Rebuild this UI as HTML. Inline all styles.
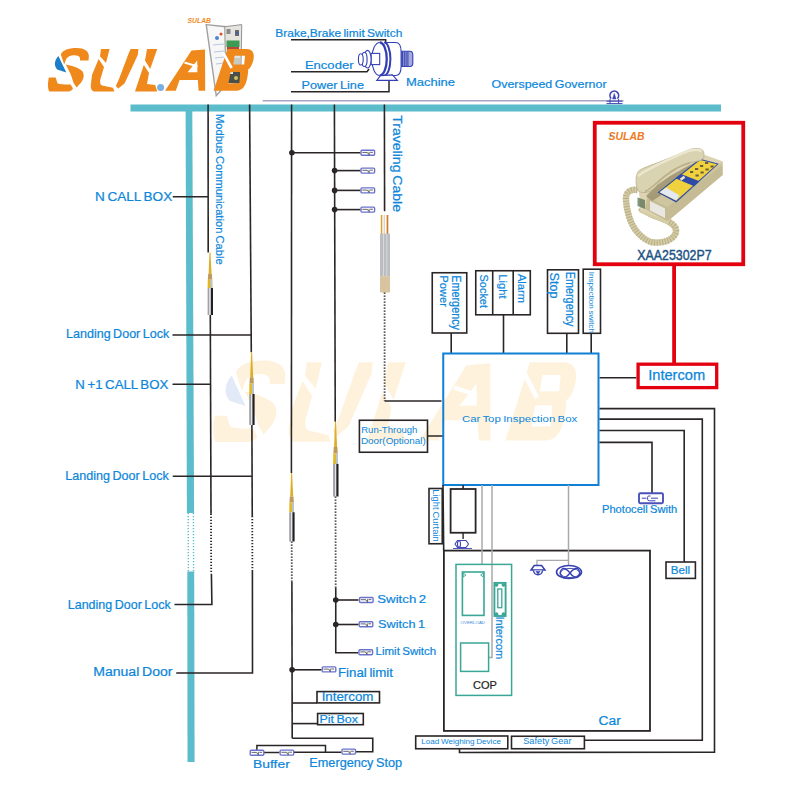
<!DOCTYPE html><html><head><meta charset="utf-8"><style>html,body{margin:0;padding:0;background:#fff;}svg{display:block;font-family:"Liberation Sans",sans-serif;}</style></head><body>
<svg width="800" height="800" viewBox="0 0 800 800">
<rect width="800" height="800" fill="#fff"/>
<g transform="translate(216 360) scale(1.763 1.87) translate(-49.5 -47.75)"><path d="M60.8 54.4 C 63 49.5, 70 48, 77 48 C 84 48, 88.9 51, 88.9 56 L 88.5 60.6 L 80 60.6 L 80 57.8 C 79 55.8, 76.5 55.2, 73.5 55.3 C 69 55.6, 66.5 57.8, 65.6 60.5 L 64.2 64.5 Z" fill="#fef2dc"/>
<path d="M58.4 56.1 C 54.2 60.5, 53.8 66, 57.2 69.6 L 66.3 72.4 Z" fill="#e1eaf6"/>
<path d="M65.8 64.6 C 71 65.5, 78 67.5, 82.2 71 C 84.5 74, 84.2 78, 81.5 82 L 76.6 87.6 L 73.6 83 C 72.5 80, 71.8 77, 70.8 74.5 Z" fill="#fef2dc"/>
<path d="M48.8 77.6 L 55.6 77.6 L 57.6 83.4 C 62 84.5, 67 84.6, 70.6 84.4 L 73 88.6 C 71.5 90.8, 70 91.6, 68.5 91.6 L 49.2 91.6 C 48 89, 47.8 86, 48 83 Z" fill="#fef2dc"/>
<path d="M101 49 L 109.6 49 L 106 63 L 100 56.2 Z" fill="#fef2dc"/>
<path d="M98.6 59 L 104 67 L 100.2 80 C 99.8 83, 100.5 85, 102 85.5 L 113 87.8 L 114.4 91.4 L 94 91.4 C 91.5 91, 90.5 88.5, 90.8 85 L 92 75 Z" fill="#fef2dc"/>
<path d="M130.6 49 L 138.4 49 L 137.8 55 L 124.5 83.5 L 118.2 88.4 L 115.8 86 L 119 79 L 128.8 53 Z" fill="#fef2dc"/>
<path d="M147 49 L 157.2 49 L 150.2 69 L 145 60.5 Z" fill="#fef2dc"/>
<path d="M143.8 65 L 149 73 L 147 84 L 155.2 85 L 157.2 91.4 L 135 91.4 Z" fill="#fef2dc"/>
<circle cx="160.6" cy="87.6" r="3.5" fill="#fff"/>
<path d="M165 90.8 L 191.5 50.5 L 205 49.5 L 205.2 90.8 L 198.6 90.8 L 197.8 80 L 179.6 80 L 175.8 90.8 Z M 187.6 72.2 L 197.4 72.2 L 197.2 60.5 Z" fill="#fef2dc" fill-rule="evenodd"/>
<path d="M184.5 62.5 L 197.5 66.5" stroke="#fff" stroke-width="2.2"/>
<path d="M227.5 48.9 L 246.5 48.9 C 251.5 48.9, 254 52, 253.8 56.5 C 253.5 61.5, 252 65.5, 249.5 68.5 C 248 69, 248 70, 248.2 71 C 247.8 76, 247 80, 245.5 84 C 243.5 88.5, 240.5 90.8, 236 90.8 L 213.6 90.8 Z M 234.6 55.8 L 245 55.8 L 244.2 64.4 L 233.2 64.6 Z M 230.6 72 L 240.2 72 L 239.4 83.2 L 228.4 83.4 Z" fill="#fef2dc" fill-rule="evenodd"/>
<path d="M223.6 53.5 L 231.6 68" stroke="#fff" stroke-width="2.6"/></g>
<path d="M60.8 54.4 C 63 49.5, 70 48, 77 48 C 84 48, 88.9 51, 88.9 56 L 88.5 60.6 L 80 60.6 L 80 57.8 C 79 55.8, 76.5 55.2, 73.5 55.3 C 69 55.6, 66.5 57.8, 65.6 60.5 L 64.2 64.5 Z" fill="#ef891c"/>
<path d="M58.4 56.1 C 54.2 60.5, 53.8 66, 57.2 69.6 L 66.3 72.4 Z" fill="#1c7dc9"/>
<path d="M65.8 64.6 C 71 65.5, 78 67.5, 82.2 71 C 84.5 74, 84.2 78, 81.5 82 L 76.6 87.6 L 73.6 83 C 72.5 80, 71.8 77, 70.8 74.5 Z" fill="#ef891c"/>
<path d="M48.8 77.6 L 55.6 77.6 L 57.6 83.4 C 62 84.5, 67 84.6, 70.6 84.4 L 73 88.6 C 71.5 90.8, 70 91.6, 68.5 91.6 L 49.2 91.6 C 48 89, 47.8 86, 48 83 Z" fill="#ef891c"/>
<path d="M101 49 L 109.6 49 L 106 63 L 100 56.2 Z" fill="#ef891c"/>
<path d="M98.6 59 L 104 67 L 100.2 80 C 99.8 83, 100.5 85, 102 85.5 L 113 87.8 L 114.4 91.4 L 94 91.4 C 91.5 91, 90.5 88.5, 90.8 85 L 92 75 Z" fill="#ef891c"/>
<path d="M130.6 49 L 138.4 49 L 137.8 55 L 124.5 83.5 L 118.2 88.4 L 115.8 86 L 119 79 L 128.8 53 Z" fill="#ef891c"/>
<path d="M147 49 L 157.2 49 L 150.2 69 L 145 60.5 Z" fill="#ef891c"/>
<path d="M143.8 65 L 149 73 L 147 84 L 155.2 85 L 157.2 91.4 L 135 91.4 Z" fill="#ef891c"/>
<circle cx="160.6" cy="87.6" r="3.5" fill="#7ab0e0"/>
<path d="M165 90.8 L 191.5 50.5 L 205 49.5 L 205.2 90.8 L 198.6 90.8 L 197.8 80 L 179.6 80 L 175.8 90.8 Z M 187.6 72.2 L 197.4 72.2 L 197.2 60.5 Z" fill="#ef891c" fill-rule="evenodd"/>
<path d="M184.5 62.5 L 197.5 66.5" stroke="#fff" stroke-width="2.2"/>
<g>
<polygon points="206.2,24.6 225.8,26.7 226.9,84 216.25,95.75" fill="#f7f7f7" stroke="#a0a0a0" stroke-width="1.4"/>
<polygon points="224.75,26.7 241.75,24.6 240.7,83 225.8,85.1" fill="#e6e4df" stroke="#8a8a8a" stroke-width="0.9"/>
<rect x="226.5" y="29" width="4" height="5" fill="#8a8a88"/>
<rect x="235" y="30" width="4" height="6" fill="#6a6a6a"/>
<circle cx="237" cy="33" r="1.3" fill="#3a60b0"/>
<rect x="226.5" y="40.5" width="13" height="6.5" fill="#3e9a54"/>
<rect x="227" y="47" width="12" height="3" fill="#b54a3a"/>
<rect x="226" y="58" width="14" height="8" fill="#c8cac0"/><rect x="226" y="66" width="14" height="17" fill="#4a5048"/><rect x="228" y="70" width="5" height="4" fill="#e8e8e0"/>
<circle cx="231" cy="70" r="2.2" fill="#4f9a50"/>
<circle cx="236" cy="78" r="2" fill="#d0c060"/>
<circle cx="217" cy="38" r="2" fill="#4c86d0"/>
<circle cx="221" cy="34" r="1.5" fill="#e04a30"/>
<path d="M213 45 L224 44 M214 52 L224 51 M215 58 L224 57 M216 64 L224 63" stroke="#b8c8e8" stroke-width="1"/>
</g>
<path d="M227.5 48.9 L 246.5 48.9 C 251.5 48.9, 254 52, 253.8 56.5 C 253.5 61.5, 252 65.5, 249.5 68.5 C 248 69, 248 70, 248.2 71 C 247.8 76, 247 80, 245.5 84 C 243.5 88.5, 240.5 90.8, 236 90.8 L 213.6 90.8 Z M 234.6 55.8 L 245 55.8 L 244.2 64.4 L 233.2 64.6 Z M 230.6 72 L 240.2 72 L 239.4 83.2 L 228.4 83.4 Z" fill="#ef891c" fill-rule="evenodd"/>
<path d="M223.6 53.5 L 231.6 68" stroke="#fff" stroke-width="2.6"/>
<text x="187.5" y="23" font-size="7" font-style="italic" font-weight="bold" fill="#ef891c" textLength="23.5" lengthAdjust="spacingAndGlyphs">SULAB</text>
<polygon points="130.5,104.5 721,104.5 721,111.4 130.5,111.4" fill="#5bbccb"/>
<polygon points="185.6,111 192.3,111 194.1,513 186.9,513" fill="#5bbccb"/>
<polygon points="187.3,571.5 194.2,571.5 194.6,762 187.5,762" fill="#5bbccb"/>
<line x1="188.2" y1="513" x2="188.4" y2="571.5" stroke="#5bbccb" stroke-width="1.4" stroke-dasharray="1.3 1.7"/>
<line x1="193.4" y1="513" x2="193.6" y2="571.5" stroke="#5bbccb" stroke-width="1.4" stroke-dasharray="1.3 1.7"/>
<line x1="262.6" y1="100.8" x2="623.5" y2="100.8" stroke="#aaa3c6" stroke-width="1.5" />
<polyline points="291,39.8 385.7,39.8 385.7,43" stroke="#2a2526" stroke-width="1.5" fill="none" />
<polyline points="291,71.8 367,71.8 369,69" stroke="#2a2526" stroke-width="1.5" fill="none" />
<polyline points="291,91.8 389,91.8 389,80.5" stroke="#2a2526" stroke-width="1.5" fill="none" />
<g stroke="#3340b5" fill="none" stroke-width="1.1">
<path d="M401.1 51.3 H410 Q412.8 51.3 412.8 55 V63 Q412.8 66.5 410 66.5 H401.1 Z" fill="#a4aade"/>
<path d="M402.5 51.6 V66.2 M404.3 51.6 V66.2 M406.1 51.6 V66.2 M407.9 51.6 V66.2" stroke="#3d48b3" stroke-width="1.1"/>
<path d="M384.2 42.5 H395.5 Q401.1 42.5 401.1 51.5 V66.5 Q401.1 75.5 395.5 75.5 H384.2" fill="#fff"/>
<path d="M379.75 42.5 A 8 16.5 0 0 0 379.75 75.5" fill="#fff"/>
<path d="M379.75 42.5 A 7 16.5 0 0 1 379.75 75.5" stroke-width="2.3"/>
<path d="M384.2 42.5 A 6.2 16.5 0 0 1 384.2 75.5" stroke-width="2"/>
<polygon points="376.75,80.4 397.4,80.4 392.5,74.9 380.5,75.6" fill="#fff"/>
<rect x="371.1" y="53.4" width="8.6" height="11.2" fill="#fff"/>
<ellipse cx="367.5" cy="59.2" rx="3.6" ry="8.8" fill="#fff"/>
<ellipse cx="364.4" cy="59.4" rx="2.7" ry="7.1" fill="#fff"/>
<ellipse cx="360.8" cy="59.4" rx="2.4" ry="5.6" fill="#fff"/>
</g>
<text x="275.30" y="36.60" font-size="11.58" fill="#0c86da" stroke="#0c86da" stroke-width="0.208" font-weight="normal" word-spacing="-0.93" textLength="127.00" lengthAdjust="spacingAndGlyphs" >Brake,Brake limit Switch</text>
<text x="304.90" y="69.00" font-size="11.67" fill="#0c86da" stroke="#0c86da" stroke-width="0.210" font-weight="normal" word-spacing="-0.93" textLength="48.60" lengthAdjust="spacingAndGlyphs" >Encoder</text>
<text x="301.50" y="89.00" font-size="11.67" fill="#0c86da" stroke="#0c86da" stroke-width="0.210" font-weight="normal" word-spacing="-0.93" textLength="62.50" lengthAdjust="spacingAndGlyphs" >Power Line</text>
<text x="405.95" y="85.75" font-size="11.77" fill="#0c86da" stroke="#0c86da" stroke-width="0.212" font-weight="normal" word-spacing="-0.94" textLength="49.10" lengthAdjust="spacingAndGlyphs" >Machine</text>
<text x="491.50" y="88.00" font-size="11.27" fill="#0c86da" stroke="#0c86da" stroke-width="0.203" font-weight="normal" word-spacing="-0.90" textLength="115.05" lengthAdjust="spacingAndGlyphs" >Overspeed Governor</text>
<g stroke="#3d45b5" fill="none" stroke-width="1.2">
<path d="M611.2 98.6 A 4.4 4.4 0 1 1 617.4 98.6" stroke-width="1.5"/>
<path d="M612.6 99 L614.3 93.4 L616 99 Z" fill="#3d45b5" stroke-width="0.5"/>
<path d="M606.5 101.2 H622.5 M606.5 103.6 H622.5" stroke-width="1"/>
<path d="M610 99 V103.6 M618.6 99 V103.6" stroke-width="1"/>
</g>
<line x1="208.1" y1="104.5" x2="208.2" y2="252.5" stroke="#2a2526" stroke-width="1.6" />
<g><path d="M209.5 252.5 L210.5 252.5 L211.6 273.80 L208.6 273.80 Z" fill="#dcae2a"/><path d="M208.2 273.80 L211.9 273.80 L212.2 279.12 L207.9 279.12 Z" fill="#bf9a5c"/><path d="M207.8 279.12 L212.2 279.12 L212.4 288 L207.6 288 Z" fill="#e2b827"/><path d="M210.2 279.12 L212.2 279.12 L212.4 288 L210.6 288 Z" fill="#b9c4d6"/><rect x="207.6" y="288" width="1.9" height="27.00" fill="#9ea2a8"/><rect x="209.5" y="288" width="1.2" height="27.00" fill="#e4e6ea"/><rect x="210.8" y="288" width="2.2" height="27.00" fill="#231f20"/></g>
<line x1="210.3" y1="315" x2="211" y2="513.75" stroke="#2a2526" stroke-width="1.6" />
<line x1="211" y1="513.75" x2="211.2" y2="573.75" stroke="#2a2526" stroke-width="1.8" stroke-dasharray="1.3 1.7"/>
<polyline points="211.4,573.75 211.9,604.5 174.5,604.5" stroke="#2a2526" stroke-width="1.6" fill="none" />
<line x1="172.75" y1="196.7" x2="208.2" y2="196.7" stroke="#2a2526" stroke-width="1.6" />
<line x1="172.5" y1="384.25" x2="210.6" y2="384.25" stroke="#2a2526" stroke-width="1.6" />
<line x1="172.5" y1="335" x2="251.3" y2="335" stroke="#2a2526" stroke-width="1.6" />
<line x1="172.75" y1="476.25" x2="252.3" y2="476.25" stroke="#2a2526" stroke-width="1.6" />
<line x1="249.6" y1="104.5" x2="251.3" y2="352.3" stroke="#2a2526" stroke-width="1.6" />
<g><path d="M251.1 352.3 L252.1 352.3 L253.2 377.32 L250.2 377.32 Z" fill="#dcae2a"/><path d="M249.79999999999998 377.32 L253.5 377.32 L253.79999999999998 383.57 L249.5 383.57 Z" fill="#bf9a5c"/><path d="M249.4 383.57 L253.79999999999998 383.57 L254.0 394 L249.2 394 Z" fill="#e2b827"/><path d="M251.79999999999998 383.57 L253.79999999999998 383.57 L254.0 394 L252.2 394 Z" fill="#b9c4d6"/><rect x="249.2" y="394" width="1.9" height="31.00" fill="#9ea2a8"/><rect x="251.1" y="394" width="1.2" height="31.00" fill="#e4e6ea"/><rect x="252.4" y="394" width="2.2" height="31.00" fill="#231f20"/></g>
<line x1="251.9" y1="425" x2="252.25" y2="516" stroke="#2a2526" stroke-width="1.6" />
<line x1="252.25" y1="516" x2="252.4" y2="570" stroke="#2a2526" stroke-width="1.8" stroke-dasharray="1.3 1.7"/>
<polyline points="252.4,570 252.5,673 176.25,673" stroke="#2a2526" stroke-width="1.6" fill="none" />
<line x1="291.6" y1="104.5" x2="291.4" y2="472.9" stroke="#2a2526" stroke-width="1.6" />
<g><path d="M291.1 472.9 L292.1 472.9 L293.20000000000005 496.51 L290.20000000000005 496.51 Z" fill="#dcae2a"/><path d="M289.8 496.51 L293.5 496.51 L293.8 502.41 L289.5 502.41 Z" fill="#bf9a5c"/><path d="M289.40000000000003 502.41 L293.8 502.41 L294.0 512.25 L289.20000000000005 512.25 Z" fill="#e2b827"/><path d="M291.8 502.41 L293.8 502.41 L294.0 512.25 L292.20000000000005 512.25 Z" fill="#b9c4d6"/><rect x="289.20000000000005" y="512.25" width="1.9" height="29.25" fill="#9ea2a8"/><rect x="291.1" y="512.25" width="1.2" height="29.25" fill="#e4e6ea"/><rect x="292.40000000000003" y="512.25" width="2.2" height="29.25" fill="#231f20"/></g>
<line x1="291.7" y1="541.5" x2="291.8" y2="582" stroke="#2a2526" stroke-width="1.8" stroke-dasharray="1.3 1.7"/>
<line x1="291.9" y1="582" x2="292.2" y2="738.2" stroke="#2a2526" stroke-width="1.6" />
<circle cx="291.9" cy="152.75" r="2.8" fill="#2a2526"/>
<line x1="291.9" y1="152.75" x2="360.5" y2="152.75" stroke="#2a2526" stroke-width="1.6" />
<circle cx="292.1" cy="669.8" r="2.8" fill="#2a2526"/>
<line x1="292.1" y1="669.8" x2="321.5" y2="669.8" stroke="#2a2526" stroke-width="1.6" />
<line x1="292.1" y1="703" x2="317" y2="703" stroke="#2a2526" stroke-width="1.6" />
<line x1="292.1" y1="723.6" x2="317.6" y2="723.6" stroke="#2a2526" stroke-width="1.6" />
<polyline points="292.2,738.2 372.75,738.2 372.75,751.7 355.9,751.7" stroke="#2a2526" stroke-width="1.6" fill="none" />
<line x1="334.4" y1="104.5" x2="335.25" y2="421.8" stroke="#2a2526" stroke-width="1.6" />
<g><path d="M335.0 421.8 L336.0 421.8 L337.1 447.06 L334.1 447.06 Z" fill="#dcae2a"/><path d="M333.7 447.06 L337.4 447.06 L337.7 453.38 L333.4 453.38 Z" fill="#bf9a5c"/><path d="M333.3 453.38 L337.7 453.38 L337.9 463.9 L333.1 463.9 Z" fill="#e2b827"/><path d="M335.7 453.38 L337.7 453.38 L337.9 463.9 L336.1 463.9 Z" fill="#b9c4d6"/><rect x="333.1" y="463.9" width="1.9" height="32.60" fill="#9ea2a8"/><rect x="335.0" y="463.9" width="1.2" height="32.60" fill="#e4e6ea"/><rect x="336.3" y="463.9" width="2.2" height="32.60" fill="#231f20"/></g>
<line x1="335.5" y1="496.5" x2="335.7" y2="588" stroke="#2a2526" stroke-width="1.8" stroke-dasharray="1.3 1.7"/>
<polyline points="335.75,588 335.75,652.75 358.25,652.75" stroke="#2a2526" stroke-width="1.6" fill="none" />
<circle cx="334.6" cy="170.6" r="2.8" fill="#2a2526"/>
<line x1="334.6" y1="170.6" x2="360.5" y2="170.6" stroke="#2a2526" stroke-width="1.6" />
<circle cx="334.6" cy="190.4" r="2.8" fill="#2a2526"/>
<line x1="334.6" y1="190.4" x2="360.5" y2="190.4" stroke="#2a2526" stroke-width="1.6" />
<circle cx="334.6" cy="209.6" r="2.8" fill="#2a2526"/>
<line x1="334.6" y1="209.6" x2="360.5" y2="209.6" stroke="#2a2526" stroke-width="1.6" />
<circle cx="335.75" cy="600" r="2.8" fill="#2a2526"/>
<line x1="335.75" y1="600" x2="358.5" y2="600" stroke="#2a2526" stroke-width="1.6" />
<circle cx="335.75" cy="624.5" r="2.8" fill="#2a2526"/>
<line x1="335.75" y1="624.5" x2="358.5" y2="624.5" stroke="#2a2526" stroke-width="1.6" />
<g><rect x="361.00" y="150.25" width="13.60" height="5.00" rx="1" stroke="#6a72cc" stroke-width="1.4" fill="#fff"/><path d="M362.30 152.45 H367.30 L368.90 154.55 M369.10 151.95 V155.35 M370.10 152.35 H372.90" stroke="#555" stroke-width="0.9" fill="none"/></g>
<g><rect x="361.00" y="168.10" width="13.60" height="5.00" rx="1" stroke="#6a72cc" stroke-width="1.4" fill="#fff"/><path d="M362.30 170.30 H367.30 L368.90 172.40 M369.10 169.80 V173.20 M370.10 170.20 H372.90" stroke="#555" stroke-width="0.9" fill="none"/></g>
<g><rect x="361.00" y="187.90" width="13.60" height="5.00" rx="1" stroke="#6a72cc" stroke-width="1.4" fill="#fff"/><path d="M362.30 190.10 H367.30 L368.90 192.20 M369.10 189.60 V193.00 M370.10 190.00 H372.90" stroke="#555" stroke-width="0.9" fill="none"/></g>
<g><rect x="361.00" y="207.10" width="13.60" height="5.00" rx="1" stroke="#6a72cc" stroke-width="1.4" fill="#fff"/><path d="M362.30 209.30 H367.30 L368.90 211.40 M369.10 208.80 V212.20 M370.10 209.20 H372.90" stroke="#555" stroke-width="0.9" fill="none"/></g>
<g><rect x="359.50" y="597.50" width="13.60" height="5.00" rx="1" stroke="#6a72cc" stroke-width="1.4" fill="#fff"/><path d="M360.80 599.70 H365.80 L367.40 601.80 M367.60 599.20 V602.60 M368.60 599.60 H371.40" stroke="#555" stroke-width="0.9" fill="none"/></g>
<g><rect x="359.20" y="621.70" width="13.60" height="5.00" rx="1" stroke="#6a72cc" stroke-width="1.4" fill="#fff"/><path d="M360.50 623.90 H365.50 L367.10 626.00 M367.30 623.40 V626.80 M368.30 623.80 H371.10" stroke="#555" stroke-width="0.9" fill="none"/></g>
<g><rect x="358.95" y="649.70" width="13.60" height="5.00" rx="1" stroke="#6a72cc" stroke-width="1.4" fill="#fff"/><path d="M360.25 651.90 H365.25 L366.85 654.00 M367.05 651.40 V654.80 M368.05 651.80 H370.85" stroke="#555" stroke-width="0.9" fill="none"/></g>
<g><rect x="322.20" y="666.90" width="13.60" height="5.00" rx="1" stroke="#6a72cc" stroke-width="1.4" fill="#fff"/><path d="M323.50 669.10 H328.50 L330.10 671.20 M330.30 668.60 V672.00 M331.30 669.00 H334.10" stroke="#555" stroke-width="0.9" fill="none"/></g>
<text x="377.25" y="602.80" font-size="11.54" fill="#0c86da" stroke="#0c86da" stroke-width="0.208" font-weight="normal" word-spacing="-0.92" textLength="49.00" lengthAdjust="spacingAndGlyphs" >Switch 2</text>
<text x="378.00" y="627.70" font-size="11.40" fill="#0c86da" stroke="#0c86da" stroke-width="0.205" font-weight="normal" word-spacing="-0.91" textLength="47.10" lengthAdjust="spacingAndGlyphs" >Switch 1</text>
<text x="375.50" y="654.70" font-size="10.68" fill="#0c86da" stroke="#0c86da" stroke-width="0.192" font-weight="normal" word-spacing="-0.85" textLength="60.75" lengthAdjust="spacingAndGlyphs" >Limit Switch</text>
<text x="338.00" y="676.50" font-size="12.39" fill="#0c86da" stroke="#0c86da" stroke-width="0.223" font-weight="normal" word-spacing="-0.99" textLength="55.00" lengthAdjust="spacingAndGlyphs" >Final limit</text>
<rect x="317" y="691.6" width="62.50" height="11.30" stroke="#2a2526" stroke-width="1.6" fill="none" />
<text x="321.65" y="701.30" font-size="12.22" fill="#0c86da" stroke="#0c86da" stroke-width="0.220" font-weight="normal" word-spacing="-0.98" textLength="51.85" lengthAdjust="spacingAndGlyphs" >Intercom</text>
<rect x="317.6" y="713.5" width="45.70" height="11.20" stroke="#2a2526" stroke-width="1.6" fill="none" />
<text x="319.50" y="723.10" font-size="11.25" fill="#0c86da" stroke="#0c86da" stroke-width="0.203" font-weight="normal" word-spacing="-0.90" textLength="38.55" lengthAdjust="spacingAndGlyphs" >Pit Box</text>
<polyline points="256.9,752 256.9,745.6 325.5,745.6 325.5,752" stroke="#2a2526" stroke-width="1.5" fill="none" />
<line x1="263.6" y1="752.5" x2="279.4" y2="752.5" stroke="#2a2526" stroke-width="1.5" />
<line x1="293.5" y1="752.2" x2="341.25" y2="752.2" stroke="#2a2526" stroke-width="1.5" />
<g><rect x="250.20" y="750.20" width="13.60" height="5.00" rx="1" stroke="#6a72cc" stroke-width="1.4" fill="#fff"/><path d="M251.50 752.40 H256.50 L258.10 754.50 M258.30 751.90 V755.30 M259.30 752.30 H262.10" stroke="#555" stroke-width="0.9" fill="none"/></g>
<g><rect x="280.10" y="750.10" width="13.60" height="5.00" rx="1" stroke="#6a72cc" stroke-width="1.4" fill="#fff"/><path d="M281.40 752.30 H286.40 L288.00 754.40 M288.20 751.80 V755.20 M289.20 752.20 H292.00" stroke="#555" stroke-width="0.9" fill="none"/></g>
<g><rect x="341.95" y="749.10" width="13.60" height="5.00" rx="1" stroke="#6a72cc" stroke-width="1.4" fill="#fff"/><path d="M343.25 751.30 H348.25 L349.85 753.40 M350.05 750.80 V754.20 M351.05 751.20 H353.85" stroke="#555" stroke-width="0.9" fill="none"/></g>
<text x="253.00" y="767.50" font-size="11.61" fill="#0c86da" stroke="#0c86da" stroke-width="0.209" font-weight="normal" word-spacing="-0.93" textLength="36.75" lengthAdjust="spacingAndGlyphs" >Buffer</text>
<text x="309.35" y="766.60" font-size="12.15" fill="#0c86da" stroke="#0c86da" stroke-width="0.219" font-weight="normal" word-spacing="-0.97" textLength="92.70" lengthAdjust="spacingAndGlyphs" >Emergency Stop</text>
<line x1="384.4" y1="104.5" x2="384.6" y2="211.3" stroke="#2a2526" stroke-width="1.6" />
<g>
<rect x="380.8" y="215" width="1.5" height="19" fill="#dfa22a"/>
<rect x="383.6" y="215" width="1.4" height="19" fill="#d8d4cc"/>
<rect x="386.6" y="215" width="1.7" height="19" fill="#d9781c"/>
<rect x="380" y="233.7" width="10" height="42.6" fill="#bbbdc0"/>
<rect x="383" y="233.7" width="1" height="42.6" fill="#d8d9db"/>
<rect x="386.3" y="233.7" width="1" height="42.6" fill="#d8d9db"/>
<rect x="380" y="276.2" width="10" height="16.3" fill="#d8c49e"/>
</g>
<line x1="384.6" y1="292.5" x2="384.6" y2="401" stroke="#2a2526" stroke-width="1.8" stroke-dasharray="1.3 1.7"/>
<line x1="384.6" y1="401" x2="441.5" y2="401" stroke="#2a2526" stroke-width="1.6" />
<text x="95.00" y="200.80" font-size="12.30" fill="#0c86da" stroke="#0c86da" stroke-width="0.221" font-weight="normal" word-spacing="-0.98" textLength="77.20" lengthAdjust="spacingAndGlyphs" >N CALL BOX</text>
<text x="66.00" y="338.25" font-size="12.39" fill="#0c86da" stroke="#0c86da" stroke-width="0.223" font-weight="normal" word-spacing="-0.99" textLength="103.25" lengthAdjust="spacingAndGlyphs" >Landing Door Lock</text>
<text x="75.25" y="388.75" font-size="13.09" fill="#0c86da" stroke="#0c86da" stroke-width="0.236" font-weight="normal" word-spacing="-1.05" textLength="93.00" lengthAdjust="spacingAndGlyphs" >N +1 CALL BOX</text>
<text x="65.25" y="479.50" font-size="12.39" fill="#0c86da" stroke="#0c86da" stroke-width="0.223" font-weight="normal" word-spacing="-0.99" textLength="103.50" lengthAdjust="spacingAndGlyphs" >Landing Door Lock</text>
<text x="67.75" y="609.25" font-size="12.03" fill="#0c86da" stroke="#0c86da" stroke-width="0.217" font-weight="normal" word-spacing="-0.96" textLength="103.00" lengthAdjust="spacingAndGlyphs" >Landing Door Lock</text>
<text x="93.25" y="676.25" font-size="13.12" fill="#0c86da" stroke="#0c86da" stroke-width="0.236" font-weight="normal" word-spacing="-1.05" textLength="79.25" lengthAdjust="spacingAndGlyphs" >Manual Door</text>
<text transform="translate(216.00 114.00) rotate(90)" x="0" y="0" font-size="10.94" fill="#0c86da" stroke="#0c86da" stroke-width="0.197" font-weight="normal" word-spacing="-0.88" textLength="150.70" lengthAdjust="spacingAndGlyphs">Modbus Communication Cable</text>
<text transform="translate(393.00 115.25) rotate(90)" x="0" y="0" font-size="12.80" fill="#0c86da" stroke="#0c86da" stroke-width="0.230" font-weight="normal" word-spacing="-1.02" textLength="96.70" lengthAdjust="spacingAndGlyphs">Traveling Cable</text>
<rect x="432.25" y="272.75" width="34.50" height="60.25" stroke="#2a2526" stroke-width="1.6" fill="none" />
<line x1="451.2" y1="333" x2="451.2" y2="353.5" stroke="#2a2526" stroke-width="1.6" />
<text transform="translate(451.50 275.25) rotate(90)" x="0" y="0" font-size="12.00" fill="#0c86da" stroke="#0c86da" stroke-width="0.216" font-weight="normal" word-spacing="-0.96" textLength="54.75" lengthAdjust="spacingAndGlyphs">Emergency</text>
<text transform="translate(440.00 275.25) rotate(90)" x="0" y="0" font-size="10.90" fill="#0c86da" stroke="#0c86da" stroke-width="0.196" font-weight="normal" word-spacing="-0.87" textLength="31.75" lengthAdjust="spacingAndGlyphs">Power</text>
<rect x="475.75" y="270.75" width="54.55" height="44.05" stroke="#2a2526" stroke-width="1.6" fill="none" />
<line x1="492.7" y1="270.75" x2="492.7" y2="314.8" stroke="#2a2526" stroke-width="1.6" />
<line x1="513.2" y1="270.75" x2="513.2" y2="314.8" stroke="#2a2526" stroke-width="1.6" />
<line x1="503.5" y1="314.8" x2="503.5" y2="353.5" stroke="#2a2526" stroke-width="1.6" />
<text transform="translate(480.00 274.50) rotate(90)" x="0" y="0" font-size="11.11" fill="#0c86da" stroke="#0c86da" stroke-width="0.200" font-weight="normal" word-spacing="-0.89" textLength="33.50" lengthAdjust="spacingAndGlyphs">Socket</text>
<text transform="translate(499.00 274.25) rotate(90)" x="0" y="0" font-size="10.22" fill="#0c86da" stroke="#0c86da" stroke-width="0.184" font-weight="normal" word-spacing="-0.82" textLength="24.25" lengthAdjust="spacingAndGlyphs">Light</text>
<text transform="translate(518.00 273.90) rotate(90)" x="0" y="0" font-size="10.22" fill="#0c86da" stroke="#0c86da" stroke-width="0.184" font-weight="normal" word-spacing="-0.82" textLength="29.10" lengthAdjust="spacingAndGlyphs">Alarm</text>
<rect x="547.5" y="269.8" width="31.00" height="63.50" stroke="#2a2526" stroke-width="1.6" fill="none" />
<line x1="566.8" y1="333.3" x2="566.8" y2="353.5" stroke="#2a2526" stroke-width="1.6" />
<text transform="translate(565.50 271.75) rotate(90)" x="0" y="0" font-size="12.00" fill="#0c86da" stroke="#0c86da" stroke-width="0.216" font-weight="normal" word-spacing="-0.96" textLength="54.75" lengthAdjust="spacingAndGlyphs">Emergency</text>
<text transform="translate(550.00 272.50) rotate(90)" x="0" y="0" font-size="12.73" fill="#0c86da" stroke="#0c86da" stroke-width="0.229" font-weight="normal" word-spacing="-1.02" textLength="26.00" lengthAdjust="spacingAndGlyphs">Stop</text>
<rect x="583.2" y="269.2" width="17.30" height="64.10" stroke="#2a2526" stroke-width="1.6" fill="none" />
<line x1="591.2" y1="333.3" x2="591.2" y2="353.5" stroke="#2a2526" stroke-width="1.6" />
<text transform="translate(589.00 271.75) rotate(90)" x="0" y="0" font-size="7.65" fill="#0c86da" stroke="#0c86da" stroke-width="0.000" font-weight="normal" word-spacing="-0.61" textLength="61.25" lengthAdjust="spacingAndGlyphs">Inspection switch</text>
<g>
<path d="M637.5 190 C 630 189, 625.5 192, 626 200 C 626.5 210, 630 224, 637.5 232.5 C 643 238.5, 648 242, 654 242.5 C 662 243, 670 241, 674 236 C 678 231, 676 226, 670 222.5 C 664 219, 657 217, 652.5 215 C 647 212.5, 643 210, 640 207.5" fill="none" stroke="#d5cda6" stroke-width="6.4"/>
<path d="M637.5 190 C 630 189, 625.5 192, 626 200 C 626.5 210, 630 224, 637.5 232.5 C 643 238.5, 648 242, 654 242.5 C 662 243, 670 241, 674 236 C 678 231, 676 226, 670 222.5 C 664 219, 657 217, 652.5 215 C 647 212.5, 643 210, 640 207.5" fill="none" stroke="#9f9570" stroke-width="6.4" stroke-dasharray="1.1 1.6" opacity="0.5"/>
<path d="M640 210 C 650 214, 660 218, 668 222" fill="none" stroke="#d5cda6" stroke-width="5"/>
<polygon points="638.75,185 705,155 722.5,161.25 722.5,175 667.5,221.25 640,210" fill="#dcd4b2"/>
<polygon points="647.5,197 720,163.75 722.5,161.25 722.5,175 667.5,221.25 645,209" fill="#cfc6a0"/>
<polygon points="647.5,197 667.5,207 722.5,165 722.5,175 667.5,221.25 645,209" fill="#c5bb94"/>
<polygon points="650,201 665,208.5 665,218 650,210.5" fill="#e9e8e0"/>
<polygon points="637.5,197.5 645,200 645,209 637.5,206" fill="#4f6a4a" opacity="0.7"/>
<polygon points="646,196 656,186 670,176 686,167 700,160 707,162 702,168 686,176 670,186 660,196 652,201" fill="#9c9270" opacity="0.85"/>
<polygon points="657.5,192.5 700,158.75 718.75,163.75 676.25,202.5" fill="#2f4ba6"/>
<polygon points="659.5,192.3 700.3,160 717,164.3 676.2,200.8" fill="#f0d13e"/>
<polygon points="675.35,178.3 680.9,173.9 699.6,181.2 694.1,186.2" fill="#2f4ba6"/>
<polygon points="659.8,192.2 666,187.6 679.5,195.6 676.2,200.6" fill="#e4eaf2"/>
<rect x="680" y="177" width="5" height="2.6" fill="#efe6c4" transform="rotate(-38 682.5 178.3)"/>
<g fill="#6e5e3e">
<rect x="690" y="171" width="3.2" height="2"/><rect x="695" y="168" width="3.2" height="2"/><rect x="700" y="165" width="3.2" height="2"/><rect x="705" y="162" width="3.2" height="2"/>
<rect x="695.5" y="174.5" width="3.2" height="2"/><rect x="700.5" y="171.5" width="3.2" height="2"/><rect x="705.5" y="168.5" width="3.2" height="2"/><rect x="710.5" y="165.5" width="3.2" height="2"/>
</g>
<path d="M636.25 177.5 C 637 173, 638 171, 640 170 C 645 167, 650 165.5, 655 163.75 C 663 160.5, 672 157, 680 153.75 C 685 151.5, 689 149.5, 692.5 148.75 C 697 148, 701 148.5, 702.5 150 C 704 152, 704.5 155, 703.75 157.5 C 702 160, 700 160.8, 697.5 161.25 C 693 162, 689 162.5, 685 163.75 C 681 165, 678 167.5, 675 170 C 670 173.5, 666 176, 662.5 178.75 C 659 182, 657.5 185, 655 187.5 C 652 190.5, 648.5 192.3, 645 192.5 C 641 192.6, 638.5 192, 637.5 190 C 636 186, 635.8 181, 636.25 177.5 Z" fill="#dad3b2" stroke="#b3a982" stroke-width="0.7"/>
<path d="M638 176 C 648 168, 668 160, 684 152.5 C 690 150, 697 149, 701.5 151" fill="none" stroke="#ebe6ce" stroke-width="2.6"/>
<path d="M645 191.5 C 652 188, 658 181, 666 175 C 673 169.5, 681 165.5, 690 163" fill="none" stroke="#b9ae86" stroke-width="1.4"/>
</g>
<text x="637.30" y="259.75" font-size="14.26" fill="#1c5285" stroke="#1c5285" stroke-width="0.257" font-weight="normal" word-spacing="-1.14" textLength="74.25" lengthAdjust="spacingAndGlyphs" style="stroke-width:0.45px">XAA25302P7</text>
<text x="608.5" y="140.4" font-size="10.5" font-style="italic" font-weight="bold" fill="#f07a1a" textLength="36" lengthAdjust="spacingAndGlyphs">SULAB</text>
<path d="M609.3 136.5 l1.2 -1.8 l1.2 1.8 z" fill="#1a6ac8"/>
<rect x="594.75" y="122.75" width="148.50" height="141.50" stroke="#e3000f" stroke-width="3.8" fill="none" />
<line x1="674.1" y1="264.25" x2="674.1" y2="364.2" stroke="#e3000f" stroke-width="3.8" />
<rect x="638.1" y="364.2" width="78.60" height="23.40" stroke="#e3000f" stroke-width="3.3" fill="none" />
<text x="648.20" y="379.50" font-size="13.89" fill="#0c86da" stroke="#0c86da" stroke-width="0.250" font-weight="normal" word-spacing="-1.11" textLength="57.00" lengthAdjust="spacingAndGlyphs" >Intercom</text>
<line x1="599.5" y1="377.8" x2="636.3" y2="377.8" stroke="#2a2526" stroke-width="1.5" />
<rect x="443.25" y="353.5" width="155.25" height="131.50" stroke="#0f80d5" stroke-width="2" fill="none" />
<text x="461.90" y="421.70" font-size="9.87" fill="#0c86da" stroke="#0c86da" stroke-width="0.000" font-weight="normal" word-spacing="-0.79" textLength="115.45" lengthAdjust="spacingAndGlyphs" >Car Top Inspection Box</text>
<rect x="359.4" y="420.25" width="68.10" height="32.00" stroke="#2a2526" stroke-width="1.6" fill="none" />
<text x="361.20" y="432.50" font-size="8.37" fill="#0c86da" stroke="#0c86da" stroke-width="0.000" font-weight="normal" word-spacing="-0.67" textLength="56.25" lengthAdjust="spacingAndGlyphs" >Run-Through</text>
<text x="360.95" y="443.50" font-size="8.37" fill="#0c86da" stroke="#0c86da" stroke-width="0.000" font-weight="normal" word-spacing="-0.67" textLength="64.80" lengthAdjust="spacingAndGlyphs" >Door(Optional)</text>
<line x1="427.5" y1="436" x2="442.5" y2="436" stroke="#2a2526" stroke-width="1.5" />
<polyline points="599.5,408.65 714.5,408.65 714.5,752.1 459.5,752.5 459.5,748.75" stroke="#2a2526" stroke-width="1.6" fill="none" />
<polyline points="599.5,419.15 702.3,419.15 702.3,740.2 584.4,740.2" stroke="#2a2526" stroke-width="1.6" fill="none" />
<polyline points="599.5,430.5 684.2,430.5 684.2,562" stroke="#2a2526" stroke-width="1.6" fill="none" />
<polyline points="599.5,442.4 652,442.4 652,493" stroke="#2a2526" stroke-width="1.6" fill="none" />
<g stroke="#4a52b8" fill="#fff" stroke-width="1.9"><rect x="639" y="493.2" width="24" height="10" rx="1.2"/>
<path d="M641.8 498.2 H646.5 M650.5 496 H648.8 Q647.6 496 647.6 497.4 V499.2 Q647.6 500.8 649.4 500.8 H655.5 M651 498.2 H658" stroke="#3d45b5" stroke-width="1" fill="none"/></g>
<text x="602.00" y="513.00" font-size="10.17" fill="#0c86da" stroke="#0c86da" stroke-width="0.183" font-weight="normal" word-spacing="-0.81" textLength="75.20" lengthAdjust="spacingAndGlyphs" >Photocell Swith</text>
<rect x="666" y="562" width="29.40" height="16.40" stroke="#2a2526" stroke-width="1.6" fill="none" />
<text x="670.80" y="573.60" font-size="10.05" fill="#0c86da" stroke="#0c86da" stroke-width="0.181" font-weight="normal" word-spacing="-0.80" textLength="19.40" lengthAdjust="spacingAndGlyphs" >Bell</text>
<rect x="429" y="488.5" width="13.25" height="55.25" stroke="#2a2526" stroke-width="1.6" fill="none" />
<text transform="translate(433.00 489.25) rotate(90)" x="0" y="0" font-size="9.50" fill="#0c86da" stroke="#0c86da" stroke-width="0.000" font-weight="normal" word-spacing="-0.76" textLength="52.50" lengthAdjust="spacingAndGlyphs">Light Curtain</text>
<line x1="443" y1="485" x2="443.7" y2="550.6" stroke="#2a2526" stroke-width="1.6" />
<line x1="463.1" y1="485" x2="463.1" y2="489" stroke="#2a2526" stroke-width="1.6" />
<rect x="450.6" y="489" width="25.00" height="43.75" stroke="#2a2526" stroke-width="1.8" fill="none" />
<line x1="463.1" y1="532.75" x2="463.1" y2="539" stroke="#2a2526" stroke-width="1.4" />
<g stroke="#3d45b5" fill="#fff" stroke-width="1.1">
<path d="M455 544 L457.5 540.5 H466 L468.5 544 L466 547.5 H457.5 Z"/>
<ellipse cx="459" cy="544" rx="1.5" ry="3.3"/>
<path d="M453 548.5 H472" stroke-width="0.9"/>
</g>
<rect x="443.9" y="550.6" width="206.10" height="180.30" stroke="#2a2526" stroke-width="1.8" fill="none" />
<text x="598.55" y="724.65" font-size="12.21" fill="#0c86da" stroke="#0c86da" stroke-width="0.220" font-weight="normal" word-spacing="-0.98" textLength="22.25" lengthAdjust="spacingAndGlyphs" >Car</text>
<line x1="482" y1="485" x2="482" y2="564.4" stroke="#a9a9a9" stroke-width="1.5" />
<polyline points="492,485 492,657.4 488.6,657.4" stroke="#a9a9a9" stroke-width="1.5" fill="none" />
<polyline points="568.5,485 568.5,566" stroke="#a9a9a9" stroke-width="1.5" fill="none" />
<polyline points="568.5,560.3 537,560.3 537,565" stroke="#a9a9a9" stroke-width="1.3" fill="none" />
<g stroke="#3540b0" fill="#fff" stroke-width="1.3">
<ellipse cx="569" cy="572" rx="12.5" ry="6.5" stroke-width="1.6"/>
<ellipse cx="570" cy="573" rx="9.5" ry="4.6" stroke-width="0.9"/>
<path d="M560 573 C 562 566, 566 568, 570 573 C 574 578, 578 580, 580 573 C 578 566, 574 568, 570 573 C 566 578, 562 580, 560 573 Z" stroke-width="1.3" fill="none"/>
<path d="M534.2 565.6 H541.6 L545 570 H531 Z" stroke-width="1.5"/>
<path d="M533.6 570.6 A 4.4 4.2 0 0 0 542.4 570.6" stroke-width="1.4"/>
<path d="M536 571.4 L538 574 L540 571.4 Z" fill="#3540b0" stroke-width="0.6"/>
</g>
<rect x="456" y="564.4" width="55.60" height="131.00" stroke="#3aa796" stroke-width="1.5" fill="none" />
<rect x="462.4" y="572" width="21.60" height="43.40" stroke="#3aa796" stroke-width="1.6" fill="none" />
<path d="M463.2 573 L466 575 L463.2 577 Z M483.4 573 L480.6 575 L483.4 577 Z" fill="none" stroke="#3aa796" stroke-width="0.9"/>
<text x="460.60" y="623.50" font-size="4.36" fill="#3a8ad6" stroke="#3a8ad6" stroke-width="0.000" font-weight="normal" word-spacing="-0.35" textLength="24.40" lengthAdjust="spacingAndGlyphs" >OVERLOAD</text>
<rect x="494.4" y="582.9" width="11.20" height="33.10" stroke="#3aa796" stroke-width="1.9" fill="none" />
<g fill="#3aa796"><path d="M495 583.5 h3 a1.6 1.6 0 0 1 -3 2.4 z M505 583.5 h-3 a1.6 1.6 0 0 0 3 2.4 z M495 615.4 h3 a1.6 1.6 0 0 0 -3 -2.4 z M505 615.4 h-3 a1.6 1.6 0 0 1 3 -2.4 z"/></g>
<rect x="497.8" y="589" width="4.00" height="18.70" stroke="#3aa796" stroke-width="1.3" fill="none" />
<text transform="translate(496.30 616.45) rotate(90)" x="0" y="0" font-size="10.37" fill="#0c86da" stroke="#0c86da" stroke-width="0.187" font-weight="normal" word-spacing="-0.83" textLength="42.85" lengthAdjust="spacingAndGlyphs">Intercom</text>
<rect x="460.6" y="643" width="28.00" height="28.40" stroke="#3aa796" stroke-width="1.5" fill="none" />
<text x="473.05" y="688.60" font-size="10.69" fill="#222" stroke="#222" stroke-width="0.193" font-weight="normal" word-spacing="-0.86" textLength="23.90" lengthAdjust="spacingAndGlyphs" >COP</text>
<rect x="415.7" y="736" width="92.10" height="12.75" stroke="#2a2526" stroke-width="1.6" fill="none" />
<text x="421.25" y="743.80" font-size="7.36" fill="#0c86da" stroke="#0c86da" stroke-width="0.000" font-weight="normal" word-spacing="-0.59" textLength="79.75" lengthAdjust="spacingAndGlyphs" >Load Weighing Device</text>
<rect x="511.5" y="736.25" width="72.90" height="12.50" stroke="#2a2526" stroke-width="1.6" fill="none" />
<text x="523.25" y="744.40" font-size="8.89" fill="#0c86da" stroke="#0c86da" stroke-width="0.000" font-weight="normal" word-spacing="-0.71" textLength="48.25" lengthAdjust="spacingAndGlyphs" >Safety Gear</text>
</svg></body></html>
